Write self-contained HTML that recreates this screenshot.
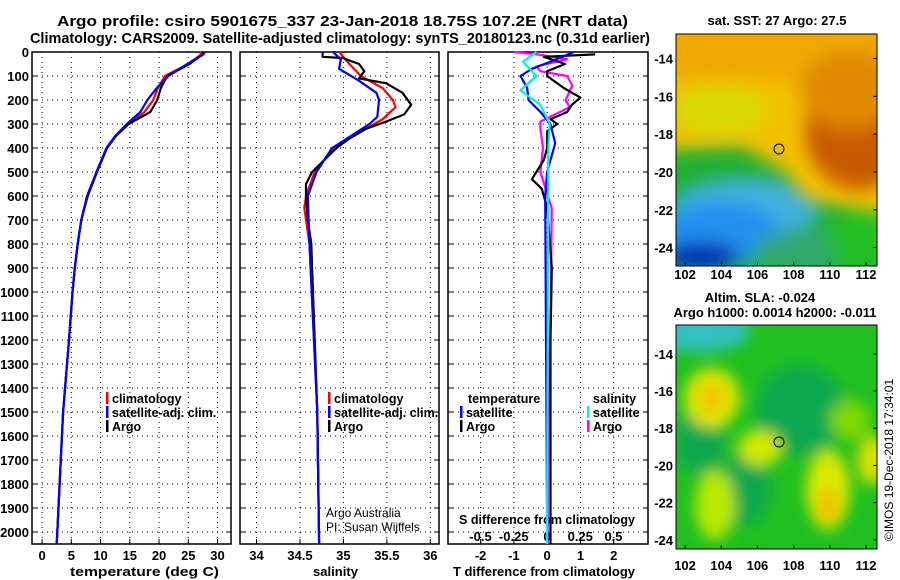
<!DOCTYPE html>
<html><head><meta charset="utf-8"><style>
body{margin:0;background:#fff;}
svg{display:block;font-family:"Liberation Sans",sans-serif;}
.b{font-weight:bold;font-size:13px;}
.l{font-weight:bold;font-size:12.5px;}
.t{font-weight:bold;font-size:15px;}
</style></head><body>
<svg id="c" width="900" height="580" viewBox="0 0 900 580">
<defs>
<filter id="bl" x="-20%" y="-20%" width="140%" height="140%"><feGaussianBlur stdDeviation="9"/></filter>
<filter id="bl2" x="-20%" y="-20%" width="140%" height="140%"><feGaussianBlur stdDeviation="7"/></filter>
<clipPath id="cm1"><rect x="676" y="34" width="201" height="232"/></clipPath>
<clipPath id="cm2"><rect x="676" y="325" width="201" height="224"/></clipPath>
</defs>
<text class="t" x="57" y="26" textLength="571" lengthAdjust="spacingAndGlyphs">Argo profile: csiro 5901675_337 23-Jan-2018 18.75S 107.2E (NRT data)</text>
<text class="t" x="30" y="43" textLength="620" lengthAdjust="spacingAndGlyphs">Climatology: CARS2009. Satellite-adjusted climatology: synTS_20180123.nc (0.31d earlier)</text>

<g>
<g clip-path="url(#cm1)">
<rect x="676" y="34" width="201" height="232" fill="#f4c000"/>
<g filter="url(#bl)">
<rect x="660" y="20" width="240" height="60" fill="#f0a800"/>
<ellipse cx="860" cy="130" rx="55" ry="60" fill="#c85a00"/>
<ellipse cx="850" cy="90" rx="50" ry="40" fill="#e08a00"/>
<ellipse cx="720" cy="110" rx="50" ry="25" fill="#d8d800"/>
<polygon points="660,150 740,145 790,175 800,200 840,205 890,215 890,290 660,290" fill="#20b030"/>
<ellipse cx="745" cy="210" rx="70" ry="28" fill="#40b0e0"/>
<ellipse cx="720" cy="232" rx="60" ry="30" fill="#2090f0"/>
<ellipse cx="700" cy="258" rx="40" ry="16" fill="#0030b0"/>
<ellipse cx="800" cy="250" rx="45" ry="20" fill="#30a870"/>
<ellipse cx="860" cy="240" rx="30" ry="30" fill="#20c020"/>
</g>
</g>
<rect x="676" y="34" width="201" height="232" fill="none" stroke="#000"/>
<circle cx="779" cy="149" r="5" fill="none" stroke="#000"/>
</g>
<text class="b" x="777" y="25" text-anchor="middle">sat. SST: 27 Argo: 27.5</text>

<g>
<g clip-path="url(#cm2)">
<rect x="676" y="325" width="201" height="224" fill="#20c020"/>
<g filter="url(#bl2)">
<ellipse cx="700" cy="330" rx="50" ry="22" fill="#30c0c0"/>
<ellipse cx="800" cy="410" rx="45" ry="45" fill="#10a850"/>
<ellipse cx="700" cy="440" rx="25" ry="35" fill="#10a850"/>
<ellipse cx="745" cy="490" rx="25" ry="35" fill="#10a850"/>
<ellipse cx="712" cy="398" rx="28" ry="30" fill="#d8e800"/>
<ellipse cx="712" cy="398" rx="14" ry="16" fill="#f0c800"/>
<ellipse cx="760" cy="448" rx="22" ry="18" fill="#d0e800"/>
<ellipse cx="715" cy="505" rx="20" ry="35" fill="#b8e800"/>
<ellipse cx="828" cy="490" rx="22" ry="40" fill="#d8e800"/>
<ellipse cx="828" cy="505" rx="10" ry="18" fill="#f0c000"/>
<ellipse cx="872" cy="460" rx="15" ry="25" fill="#d8e000"/>
<ellipse cx="850" cy="420" rx="20" ry="20" fill="#80d800"/>
</g>
</g>
<rect x="676" y="325" width="201" height="224" fill="none" stroke="#000"/>
<circle cx="779" cy="442" r="5" fill="none" stroke="#000"/>
</g>
<text class="b" x="760" y="302" text-anchor="middle">Altim. SLA: -0.024</text>
<text class="b" x="775" y="317" text-anchor="middle">Argo h1000: 0.0014 h2000: -0.011</text>
<text x="893" y="460" font-size="12" text-anchor="middle" transform="rotate(-90 893 460)">©IMOS 19-Dec-2018 17:34:01</text>

<text class="b" x="70" y="576" textLength="149" lengthAdjust="spacingAndGlyphs">temperature (deg C)</text>
<text class="b" x="313" y="576" textLength="45" lengthAdjust="spacingAndGlyphs">salinity</text>
<text class="b" x="453" y="576" textLength="182" lengthAdjust="spacingAndGlyphs">T difference from climatology</text>
<text class="b" x="459" y="524" textLength="176" lengthAdjust="spacingAndGlyphs">S difference from climatology</text>
<text x="326" y="517" font-size="12">Argo Australia</text>
<text x="326" y="531" font-size="12">PI: Susan Wijffels</text>
</svg>
<script>
const depthTicks=[0,100,200,300,400,500,600,700,800,900,1000,1100,1200,1300,1400,1500,1600,1700,1800,1900,2000];
const tTicks=[0,5,10,15,20,25,30];
const sTicks=[34,34.5,35,35.5,36];
const dTicks=[-2,-1,0,1,2];
const sdTicks=[-0.5,-0.25,0,0.25,0.5];
const sdTickLabels=["-0.5","-0.25","0","0.25","0.5"];
const tDepth=[0,10,50,100,150,200,250,300,350,400,500,600,700,800,900,1000,1200,1500,2000,2050];
const tArgo=[27.6,27.5,25.2,21.4,20.3,19.7,18.5,14.8,12.6,11.1,9.4,7.8,6.7,6.1,5.6,5.2,4.6,3.6,2.6,2.5];
const tClim=[27.0,27.2,25.0,21.0,19.8,19.0,17.5,14.6,12.6,11.1,9.3,7.7,6.7,6.1,5.6,5.2,4.6,3.6,2.6,2.5];
const tSat=[27.8,27.6,24.8,21.6,19.6,18.0,16.8,14.5,12.5,11.0,9.3,7.7,6.7,6.1,5.6,5.2,4.6,3.6,2.6,2.5];
const sArgoDepth=[0,20,25,50,80,110,130,170,220,260,290,320,360,400,500,550,600,700,800,900,1500,2050];
const sArgo=[34.76,34.76,34.99,35.18,35.24,35.18,35.49,35.68,35.78,35.70,35.49,35.26,35.07,34.92,34.64,34.57,34.57,34.59,34.63,34.64,34.70,34.72];
const sClimDepth=[0,50,100,150,200,230,280,320,400,500,600,650,800,1500,2050];
const sClim=[34.95,35.07,35.2,35.45,35.57,35.6,35.45,35.26,34.88,34.67,34.57,34.55,34.61,34.70,34.72];
const sSatDepth=[0,30,70,120,170,200,270,300,400,500,600,800,1500,2050];
const sSat=[34.88,34.97,34.95,35.18,35.38,35.41,35.39,35.30,34.87,34.69,34.59,34.61,34.70,34.72];
const dtArgoDepth=[10,20,50,80,100,120,150,190,220,250,280,300,330,400,450,530,570,650,900,1200,2050];
const dtArgo=[1.44,-0.1,0.54,0,0,0.2,0.5,1.0,0.74,0.6,0.1,0.3,0,0,-0.1,-0.46,-0.16,0,0.14,0.1,0.1];
const dtSatDepth=[0,40,70,100,150,200,250,300,380,500,600,2050];
const dtSat=[0.8,0.1,-0.46,-0.8,-0.6,-0.56,-0.2,0.1,0.24,0,-0.06,0];
const dsArgoDepth=[0,10,30,60,80,100,140,200,230,290,320,400,500,650,1000,1500,2050];
const dsArgo=[-0.25,-0.07,0.15,-0.08,-0.05,0.15,0.19,0.14,0.17,-0.05,-0.05,-0.03,-0.05,0.035,0.03,0.01,0.005];
const dsSatDepth=[0,40,100,160,220,300,400,2050];
const dsSat=[-0.08,-0.18,-0.08,-0.2,-0.05,0.02,0.01,0];
const mapLon=[102,104,106,108,110,112];
const mapLat=[-14,-16,-18,-20,-22,-24];

const NS="http://www.w3.org/2000/svg";
const svg=document.getElementById('c');
function el(tag,attrs,parent){const e=document.createElementNS(NS,tag);for(const k in attrs)e.setAttribute(k,attrs[k]);(parent||svg).appendChild(e);return e;}
const yTop=52,yBot=544;
const yD=d=>yTop+d*0.24;
const panels=[
 {x0:32,x1:231,min:-1.72,max:32.3,ticks:tTicks,name:'temperature-panel'},
 {x0:240,x1:439,min:33.81,max:36.1,ticks:sTicks,name:'salinity-panel'},
 {x0:448,x1:648,min:-2.98,max:3.03,ticks:dTicks,name:'difference-panel'}];
panels.forEach(p=>{p.sx=v=>p.x0+(v-p.min)/(p.max-p.min)*(p.x1-p.x0);});
const xS=v=>547+v*133;
panels.forEach((p,i)=>{
 const g=el('g',{});
 
 
 depthTicks.forEach(d=>{
  const l=el('line',{x1:p.x0,x2:p.x1,y1:yD(d),y2:yD(d),stroke:'#000','stroke-width':1,'stroke-dasharray':'1,4'},g);
  
  
  el('line',{x1:p.x0,x2:p.x0+5,y1:yD(d),y2:yD(d),stroke:'#000'},g);
  el('line',{x1:p.x1-5,x2:p.x1,y1:yD(d),y2:yD(d),stroke:'#000'},g);
 });
 p.ticks.forEach(v=>{
  const x=p.sx(v);
  const l=el('line',{x1:x,x2:x,y1:yTop,y2:yBot,stroke:'#000','stroke-dasharray':'1,4'},g);
  
  
  el('line',{x1:x,x2:x,y1:yBot-5,y2:yBot,stroke:'#000'},g);
  const t=el('text',{x:x,y:560,'text-anchor':'middle',class:'b'},g);
  t.textContent=String(v);
  
  
 });
 el('rect',{x:p.x0,y:yTop,width:p.x1-p.x0,height:yBot-yTop,fill:'none',stroke:'#000','stroke-width':1.5},g);
});
depthTicks.forEach(d=>{
 const t=el('text',{x:29,y:yD(d)+5,'text-anchor':'end',class:'b'});
 t.textContent=String(d);
 
 
});
sdTicks.forEach((v,i)=>{
 const t=el('text',{x:xS(v),y:541,'text-anchor':'middle',class:'b'});
 t.textContent=sdTickLabels[i];
 
 
});
function line(depths,vals,sx,color,name){
 const pts=depths.map((d,i)=>sx(vals[i]).toFixed(1)+','+yD(d).toFixed(1)).join(' ');
 const l=el('polyline',{points:pts,fill:'none',stroke:color,'stroke-width':2.2,'stroke-linejoin':'round'});
 
 
}
const P=panels;
line(tDepth,tClim,P[0].sx,'#f00','temperature-climatology-line');
line(tDepth,tArgo,P[0].sx,'#000','temperature-argo-line');
line(tDepth,tSat,P[0].sx,'#00f','temperature-satellite-line');
line(sClimDepth,sClim,P[1].sx,'#f00','salinity-climatology-line');
line(sArgoDepth,sArgo,P[1].sx,'#000','salinity-argo-line');
line(sSatDepth,sSat,P[1].sx,'#00f','salinity-satellite-line');
line(dsArgoDepth,dsArgo,xS,'#f0f','s-diff-argo-line');
line(dtArgoDepth,dtArgo,P[2].sx,'#000','t-diff-argo-line');
line(dtSatDepth,dtSat,P[2].sx,'#00f','t-diff-satellite-line');
line(dsSatDepth,dsSat,xS,'#0ee','s-diff-satellite-line');
const lonX1=v=>676+(v-101.5)*18.1;
const latY1=v=>34+(-12.7-v)*18.9;
const latY2=v=>325+(-12.45-v)*18.6;
mapLon.forEach(v=>{
 [[266,279],[549,570]].forEach(([yb,ty])=>{
  el('line',{x1:lonX1(v),x2:lonX1(v),y1:yb-4,y2:yb,stroke:'#000'});
  const t=el('text',{x:lonX1(v),y:ty,'text-anchor':'middle',class:'b'});
  t.textContent=String(v);
  
  
 });
});
mapLat.forEach(v=>{
 [latY1(v),latY2(v)].forEach(y=>{
  el('line',{x1:873,x2:877,y1:y,y2:y,stroke:'#000'});
  const t=el('text',{x:673,y:y+5,'text-anchor':'end',class:'b'});
  t.textContent=String(v);
  
  
 });
});
function legend(x,y,color,label){
 el('rect',{x:x,y:y-6,width:2.5,height:12,fill:color});
 const t=el('text',{x:x+6,y:y+5,class:'l'});
 t.textContent=label;
 
 
}
legend(106,398,'#f00','climatology');legend(106,412,'#00f','satellite-adj. clim.');legend(106,426,'#000','Argo');
legend(328,398,'#f00','climatology');legend(328,412,'#00f','satellite-adj. clim.');legend(328,426,'#000','Argo');
const th=el('text',{x:468,y:403,class:'l'});th.textContent='temperature';


const sh=el('text',{x:593,y:403,class:'l'});sh.textContent='salinity';


legend(460,412,'#00f','satellite');legend(460,426,'#000','Argo');
legend(587,412,'#0ee','satellite');legend(587,426,'#f0f','Argo');
</script>
</body></html>
